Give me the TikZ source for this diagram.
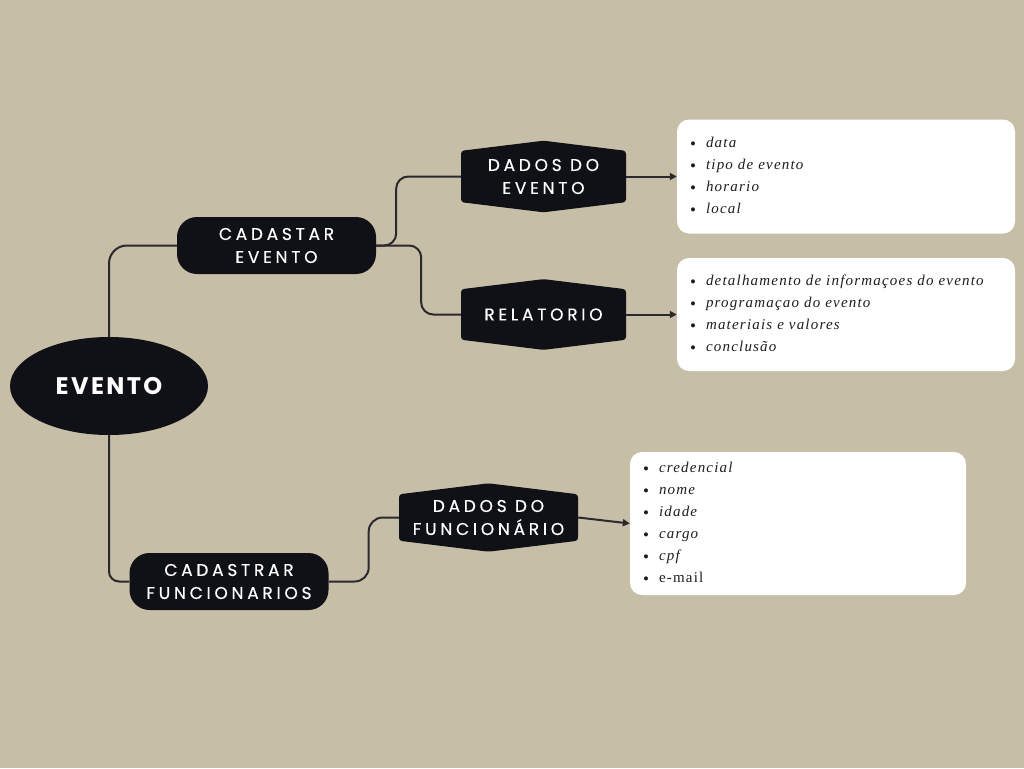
\documentclass[tikz,border=0pt]{standalone}
\usepackage{fontspec}
\usetikzlibrary{shapes.symbols,shapes.geometric,arrows.meta}
\newfontfamily\boxfont[LetterSpace=22,FakeBold=0.5]{Poppins}
\newfontfamily\rootfont[LetterSpace=10]{Poppins}
\newfontfamily\itemfont[LetterSpace=8]{Liberation Serif}
\definecolor{bgcolor}{HTML}{C6BEA7}
\definecolor{nodecolor}{HTML}{101117}
\definecolor{linecolor}{HTML}{2A2A2E}
\definecolor{itemcolor}{HTML}{1E1E22}
\newcommand{\dotmark}{\makebox[16pt][l]{\raisebox{-2pt}{\fontsize{17}{22}\selectfont\textbullet}}}
\newcommand{\itm}[1]{\dotmark\textit{#1}}
\newcommand{\itmup}[1]{\dotmark#1}

\begin{document}
\begin{tikzpicture}[x=1pt,y=-1pt]
    \tikzstyle{every node}+=[inner sep=0pt]
    \tikzstyle{pill}=[fill=nodecolor, text=white, rounded corners=20pt, minimum width=199pt, minimum height=57pt, align=center, font=\boxfont\fontsize{17}{23}\selectfont]
    \tikzstyle{hexa}=[signal, signal to=north and south, signal pointer angle=166, fill=nodecolor, text=white, rounded corners=3pt, minimum width=165pt, minimum height=65pt, align=center, font=\boxfont\fontsize{17}{23}\selectfont]
    \tikzstyle{infobox}=[fill=white, text=itemcolor, rounded corners=12pt, inner xsep=13pt, align=left, font=\itemfont\fontsize{15}{22}\selectfont]
    \tikzstyle{conn}=[linecolor, line width=2pt]
    \fill [bgcolor] (0,0) rectangle (1024,768);
    \node (ev) at (109,386) [ellipse, fill=nodecolor, text=white, minimum width=198pt, minimum height=98pt, font=\rootfont\bfseries\fontsize{24}{28}\selectfont] {EVENTO};
    \node (ce) at (276.5,245.5) [pill] {CADASTAR\\EVENTO};
    \node (cf) at (229,581.5) [pill] {CADASTRAR\\FUNCIONARIOS};
    \node (de) at (543.5,176.5) [hexa] {DADOS DO\\EVENTO};
    \node (re) at (543.5,314.5) [hexa] {RELATORIO};
    \node (df) at (488.5,517.5) [hexa, minimum width=179pt] {DADOS DO\\FUNCION\'ARIO};
    \node (b1) at (846,176.5) [infobox, text width=312pt, minimum height=114pt] {\itm{data}\\\itm{tipo de evento}\\\itm{horario}\\\itm{local}};
    \node (b2) at (846,314.5) [infobox, text width=312pt, minimum height=113pt] {\itm{detalhamento de informaçoes do evento}\\\itm{programaçao do evento}\\\itm{materiais e valores}\\\itm{conclusão}};
    \node (b3) at (798,523.5) [infobox, text width=310pt, minimum height=143pt] {\itm{credencial}\\\itm{nome}\\\itm{idade}\\\itm{cargo}\\\itm{cpf}\\\itmup{e-mail}};
    \draw [conn, rounded corners=18pt] (ev.north) |- (ce.west);
    \draw [conn, rounded corners=10pt] (ev.south) |- (cf.west);
    \draw [conn, rounded corners=12pt] (ce.east) -- ++(20,0) |- (de.west);
    \draw [conn, rounded corners=12pt] (ce.east) -- ++(45,0) |- (re.west);
    \draw [conn, rounded corners=14pt] (cf.east) -- ++(40,0) |- (df.west);
    \draw [conn, -{Triangle[length=7pt,width=7pt]}] (de.east) -- (b1.west);
    \draw [conn, -{Triangle[length=7pt,width=7pt]}] (re.east) -- (b2.west);
    \draw [conn, -{Triangle[length=7pt,width=7pt]}] (df.east) -- (b3.west);
\end{tikzpicture}
\end{document}
